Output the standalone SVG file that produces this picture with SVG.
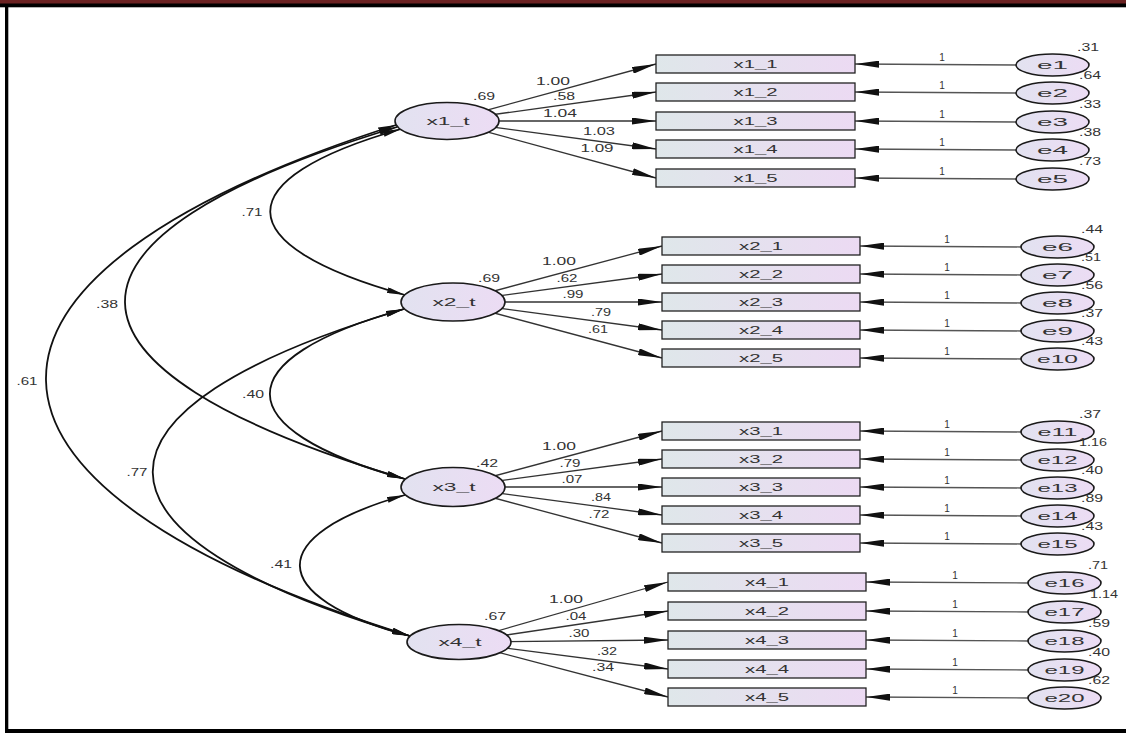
<svg xmlns="http://www.w3.org/2000/svg" width="1126" height="733" viewBox="0 0 1126 733">
<defs>
<linearGradient id="gR" x1="0" y1="0" x2="1" y2="0"><stop offset="0" stop-color="#dfe7ea"/><stop offset="1" stop-color="#ecdaf3"/></linearGradient>
<linearGradient id="gE" x1="0" y1="0" x2="1" y2="0"><stop offset="0" stop-color="#e2e2f0"/><stop offset="1" stop-color="#ecdcf4"/></linearGradient>
<marker id="ah" viewBox="0 0 24 7" refX="24" refY="3.5" markerWidth="24" markerHeight="7" markerUnits="userSpaceOnUse" orient="auto"><path d="M0,0 L24,3.5 L0,7 Z" fill="#111"/></marker>
<marker id="ac" viewBox="0 0 18 6" refX="18" refY="3" markerWidth="18" markerHeight="6" markerUnits="userSpaceOnUse" orient="auto-start-reverse"><path d="M0,0 L18,3 L0,6 Z" fill="#111"/></marker>
<style>
.lat, .err { fill: url(#gE); stroke: #1a1a1a; stroke-width: 1.6; }
.obs { fill: url(#gR); stroke: #222; stroke-width: 1.3; }
text { font-family: "Liberation Sans", Arial, sans-serif; fill: #333; text-anchor: middle; }
.lb { font-size: 11px; }
.nm { font-size: 10px; }
.en { font-size: 10px; text-anchor: start; }
.reg { stroke: #333; stroke-width: 1.3; marker-end: url(#ah); }
.el { stroke: #555; stroke-width: 1.3; marker-end: url(#ah); }
.cov { fill: none; stroke: #111; stroke-width: 1.8; marker-start: url(#ac); marker-end: url(#ac); }
</style>
</defs>
<rect x="0" y="0" width="1126" height="733" fill="#ffffff"/>
<g id="frame">
<rect x="0" y="0" width="1126" height="4" fill="#6b2222"/>
<rect x="0" y="3.5" width="1126" height="3.8" fill="#000"/>
<rect x="5" y="4" width="3.3" height="729" fill="#000"/>
<rect x="5" y="729" width="1121" height="4" fill="#000"/>
</g>
<g id="connectors">
<line class="reg" x1="447" y1="121" x2="656" y2="64"/>
<line class="reg" x1="447" y1="121" x2="656" y2="92"/>
<line class="reg" x1="447" y1="121" x2="656" y2="121"/>
<line class="reg" x1="447" y1="121" x2="656" y2="149"/>
<line class="reg" x1="447" y1="121" x2="656" y2="178"/>
<line class="reg" x1="453" y1="302" x2="662" y2="246"/>
<line class="reg" x1="453" y1="302" x2="662" y2="274"/>
<line class="reg" x1="453" y1="302" x2="662" y2="302"/>
<line class="reg" x1="453" y1="302" x2="662" y2="330"/>
<line class="reg" x1="453" y1="302" x2="662" y2="358"/>
<line class="reg" x1="453" y1="487" x2="662" y2="431"/>
<line class="reg" x1="453" y1="487" x2="662" y2="459"/>
<line class="reg" x1="453" y1="487" x2="662" y2="487"/>
<line class="reg" x1="453" y1="487" x2="662" y2="515"/>
<line class="reg" x1="453" y1="487" x2="662" y2="543"/>
<line class="reg" x1="459" y1="642" x2="668" y2="582"/>
<line class="reg" x1="459" y1="642" x2="668" y2="611"/>
<line class="reg" x1="459" y1="642" x2="668" y2="640"/>
<line class="reg" x1="459" y1="642" x2="668" y2="669"/>
<line class="reg" x1="459" y1="642" x2="668" y2="697"/>
<line class="el" x1="1016" y1="65" x2="855" y2="64"/>
<line class="el" x1="1016" y1="93" x2="855" y2="92"/>
<line class="el" x1="1016" y1="122" x2="855" y2="121"/>
<line class="el" x1="1016" y1="150" x2="855" y2="149"/>
<line class="el" x1="1016" y1="179" x2="855" y2="178"/>
<line class="el" x1="1021" y1="247" x2="860" y2="246"/>
<line class="el" x1="1021" y1="275" x2="860" y2="274"/>
<line class="el" x1="1021" y1="303" x2="860" y2="302"/>
<line class="el" x1="1021" y1="331" x2="860" y2="330"/>
<line class="el" x1="1021" y1="359" x2="860" y2="358"/>
<line class="el" x1="1021" y1="432" x2="860" y2="431"/>
<line class="el" x1="1021" y1="460" x2="860" y2="459"/>
<line class="el" x1="1021" y1="488" x2="860" y2="487"/>
<line class="el" x1="1021" y1="516" x2="860" y2="515"/>
<line class="el" x1="1021" y1="544" x2="860" y2="543"/>
<line class="el" x1="1028" y1="583" x2="866" y2="582"/>
<line class="el" x1="1028" y1="612" x2="866" y2="611"/>
<line class="el" x1="1028" y1="641" x2="866" y2="640"/>
<line class="el" x1="1028" y1="670" x2="866" y2="669"/>
<line class="el" x1="1028" y1="698" x2="866" y2="697"/>
<path class="cov" d="M401,129 C226,179 226,245 405,295"/>
<path class="cov" d="M404,309 C225,359 225,429 405,479"/>
<path class="cov" d="M405,495 C264,535 264,597 410,636"/>
<path class="cov" d="M397,127 C33,237 33,368 405,479"/>
<path class="cov" d="M396,125 C-73,275 -73,486 410,636"/>
<path class="cov" d="M404,309 C68,409 68,536 410,636"/>
<g id="connector-labels">
<text class="nm" x="553" y="85" textLength="34" lengthAdjust="spacingAndGlyphs">1.00</text>
<text class="nm" x="564" y="100" textLength="22" lengthAdjust="spacingAndGlyphs">.58</text>
<text class="nm" x="560" y="117" textLength="34" lengthAdjust="spacingAndGlyphs">1.04</text>
<text class="nm" x="599" y="135" textLength="32" lengthAdjust="spacingAndGlyphs">1.03</text>
<text class="nm" x="597" y="152" textLength="33" lengthAdjust="spacingAndGlyphs">1.09</text>
<text class="nm" x="559" y="265" textLength="34" lengthAdjust="spacingAndGlyphs">1.00</text>
<text class="nm" x="567" y="282" textLength="21" lengthAdjust="spacingAndGlyphs">.62</text>
<text class="nm" x="573" y="298" textLength="21" lengthAdjust="spacingAndGlyphs">.99</text>
<text class="nm" x="601" y="316" textLength="20" lengthAdjust="spacingAndGlyphs">.79</text>
<text class="nm" x="598" y="333" textLength="20" lengthAdjust="spacingAndGlyphs">.61</text>
<text class="nm" x="559" y="450" textLength="34" lengthAdjust="spacingAndGlyphs">1.00</text>
<text class="nm" x="570" y="467" textLength="21" lengthAdjust="spacingAndGlyphs">.79</text>
<text class="nm" x="572" y="483" textLength="21" lengthAdjust="spacingAndGlyphs">.07</text>
<text class="nm" x="601" y="501" textLength="20" lengthAdjust="spacingAndGlyphs">.84</text>
<text class="nm" x="599" y="518" textLength="21" lengthAdjust="spacingAndGlyphs">.72</text>
<text class="nm" x="566" y="603" textLength="34" lengthAdjust="spacingAndGlyphs">1.00</text>
<text class="nm" x="576" y="620" textLength="21" lengthAdjust="spacingAndGlyphs">.04</text>
<text class="nm" x="579" y="637" textLength="21" lengthAdjust="spacingAndGlyphs">.30</text>
<text class="nm" x="607" y="655" textLength="20" lengthAdjust="spacingAndGlyphs">.32</text>
<text class="nm" x="603" y="671" textLength="22" lengthAdjust="spacingAndGlyphs">.34</text>
<text class="nm" x="942" y="61">1</text>
<text class="nm" x="942" y="89">1</text>
<text class="nm" x="942" y="118">1</text>
<text class="nm" x="942" y="146">1</text>
<text class="nm" x="942" y="175">1</text>
<text class="nm" x="947" y="243">1</text>
<text class="nm" x="947" y="271">1</text>
<text class="nm" x="947" y="299">1</text>
<text class="nm" x="947" y="327">1</text>
<text class="nm" x="947" y="355">1</text>
<text class="nm" x="947" y="428">1</text>
<text class="nm" x="947" y="456">1</text>
<text class="nm" x="947" y="484">1</text>
<text class="nm" x="947" y="512">1</text>
<text class="nm" x="947" y="540">1</text>
<text class="nm" x="955" y="579">1</text>
<text class="nm" x="955" y="608">1</text>
<text class="nm" x="955" y="637">1</text>
<text class="nm" x="955" y="666">1</text>
<text class="nm" x="955" y="694">1</text>
<text class="nm" x="252" y="216" textLength="21" lengthAdjust="spacingAndGlyphs">.71</text>
<text class="nm" x="253" y="398" textLength="22" lengthAdjust="spacingAndGlyphs">.40</text>
<text class="nm" x="281" y="568" textLength="22" lengthAdjust="spacingAndGlyphs">.41</text>
<text class="nm" x="107" y="308" textLength="22" lengthAdjust="spacingAndGlyphs">.38</text>
<text class="nm" x="27" y="385" textLength="21" lengthAdjust="spacingAndGlyphs">.61</text>
<text class="nm" x="137" y="476" textLength="21" lengthAdjust="spacingAndGlyphs">.77</text>
</g>
</g>
<g id="x1_t"><ellipse class="lat" cx="447" cy="121" rx="52" ry="18.5"/><text class="lb" x="448" y="125" textLength="43" lengthAdjust="spacingAndGlyphs">x1_t</text><text class="nm" x="484" y="100" textLength="22" lengthAdjust="spacingAndGlyphs">.69</text></g>
<g id="x2_t"><ellipse class="lat" cx="453" cy="302" rx="52" ry="19"/><text class="lb" x="454" y="306" textLength="43" lengthAdjust="spacingAndGlyphs">x2_t</text><text class="nm" x="489" y="282" textLength="22" lengthAdjust="spacingAndGlyphs">.69</text></g>
<g id="x3_t"><ellipse class="lat" cx="453" cy="487" rx="52" ry="19.5"/><text class="lb" x="454" y="491" textLength="43" lengthAdjust="spacingAndGlyphs">x3_t</text><text class="nm" x="487" y="467" textLength="22" lengthAdjust="spacingAndGlyphs">.42</text></g>
<g id="x4_t"><ellipse class="lat" cx="459" cy="642" rx="52" ry="17.5"/><text class="lb" x="460" y="646" textLength="43" lengthAdjust="spacingAndGlyphs">x4_t</text><text class="nm" x="495" y="620" textLength="22" lengthAdjust="spacingAndGlyphs">.67</text></g>
<g id="x1_1"><rect class="obs" x="656" y="55" width="199" height="18"/><text class="lb" x="755.5" y="68" textLength="44" lengthAdjust="spacingAndGlyphs">x1_1</text></g>
<g id="x1_2"><rect class="obs" x="656" y="83" width="199" height="18"/><text class="lb" x="755.5" y="96" textLength="44" lengthAdjust="spacingAndGlyphs">x1_2</text></g>
<g id="x1_3"><rect class="obs" x="656" y="112" width="199" height="18"/><text class="lb" x="755.5" y="125" textLength="44" lengthAdjust="spacingAndGlyphs">x1_3</text></g>
<g id="x1_4"><rect class="obs" x="656" y="140" width="199" height="18"/><text class="lb" x="755.5" y="153" textLength="44" lengthAdjust="spacingAndGlyphs">x1_4</text></g>
<g id="x1_5"><rect class="obs" x="656" y="169" width="199" height="18"/><text class="lb" x="755.5" y="182" textLength="44" lengthAdjust="spacingAndGlyphs">x1_5</text></g>
<g id="x2_1"><rect class="obs" x="662" y="237" width="198" height="18"/><text class="lb" x="761" y="250" textLength="44" lengthAdjust="spacingAndGlyphs">x2_1</text></g>
<g id="x2_2"><rect class="obs" x="662" y="265" width="198" height="18"/><text class="lb" x="761" y="278" textLength="44" lengthAdjust="spacingAndGlyphs">x2_2</text></g>
<g id="x2_3"><rect class="obs" x="662" y="293" width="198" height="18"/><text class="lb" x="761" y="306" textLength="44" lengthAdjust="spacingAndGlyphs">x2_3</text></g>
<g id="x2_4"><rect class="obs" x="662" y="321" width="198" height="18"/><text class="lb" x="761" y="334" textLength="44" lengthAdjust="spacingAndGlyphs">x2_4</text></g>
<g id="x2_5"><rect class="obs" x="662" y="349" width="198" height="18"/><text class="lb" x="761" y="362" textLength="44" lengthAdjust="spacingAndGlyphs">x2_5</text></g>
<g id="x3_1"><rect class="obs" x="662" y="422" width="198" height="18"/><text class="lb" x="761" y="435" textLength="44" lengthAdjust="spacingAndGlyphs">x3_1</text></g>
<g id="x3_2"><rect class="obs" x="662" y="450" width="198" height="18"/><text class="lb" x="761" y="463" textLength="44" lengthAdjust="spacingAndGlyphs">x3_2</text></g>
<g id="x3_3"><rect class="obs" x="662" y="478" width="198" height="18"/><text class="lb" x="761" y="491" textLength="44" lengthAdjust="spacingAndGlyphs">x3_3</text></g>
<g id="x3_4"><rect class="obs" x="662" y="506" width="198" height="18"/><text class="lb" x="761" y="519" textLength="44" lengthAdjust="spacingAndGlyphs">x3_4</text></g>
<g id="x3_5"><rect class="obs" x="662" y="534" width="198" height="18"/><text class="lb" x="761" y="547" textLength="44" lengthAdjust="spacingAndGlyphs">x3_5</text></g>
<g id="x4_1"><rect class="obs" x="668" y="573" width="198" height="18"/><text class="lb" x="767" y="586" textLength="44" lengthAdjust="spacingAndGlyphs">x4_1</text></g>
<g id="x4_2"><rect class="obs" x="668" y="602" width="198" height="18"/><text class="lb" x="767" y="615" textLength="44" lengthAdjust="spacingAndGlyphs">x4_2</text></g>
<g id="x4_3"><rect class="obs" x="668" y="631" width="198" height="18"/><text class="lb" x="767" y="644" textLength="44" lengthAdjust="spacingAndGlyphs">x4_3</text></g>
<g id="x4_4"><rect class="obs" x="668" y="660" width="198" height="18"/><text class="lb" x="767" y="673" textLength="44" lengthAdjust="spacingAndGlyphs">x4_4</text></g>
<g id="x4_5"><rect class="obs" x="668" y="688" width="198" height="18"/><text class="lb" x="767" y="701" textLength="44" lengthAdjust="spacingAndGlyphs">x4_5</text></g>
<g id="e1"><ellipse class="err" cx="1052.5" cy="65" rx="36.5" ry="11"/><text class="lb" x="1052.5" y="69" textLength="31" lengthAdjust="spacingAndGlyphs">e1</text><text class="en" x="1077" y="51" textLength="22" lengthAdjust="spacingAndGlyphs">.31</text></g>
<g id="e2"><ellipse class="err" cx="1052.5" cy="93" rx="36.5" ry="11"/><text class="lb" x="1052.5" y="97" textLength="31" lengthAdjust="spacingAndGlyphs">e2</text><text class="en" x="1079" y="79" textLength="22" lengthAdjust="spacingAndGlyphs">.64</text></g>
<g id="e3"><ellipse class="err" cx="1052.5" cy="122" rx="36.5" ry="11"/><text class="lb" x="1052.5" y="126" textLength="31" lengthAdjust="spacingAndGlyphs">e3</text><text class="en" x="1079" y="108" textLength="22" lengthAdjust="spacingAndGlyphs">.33</text></g>
<g id="e4"><ellipse class="err" cx="1052.5" cy="150" rx="36.5" ry="11"/><text class="lb" x="1052.5" y="154" textLength="31" lengthAdjust="spacingAndGlyphs">e4</text><text class="en" x="1079" y="136" textLength="22" lengthAdjust="spacingAndGlyphs">.38</text></g>
<g id="e5"><ellipse class="err" cx="1052.5" cy="179" rx="36.5" ry="11"/><text class="lb" x="1052.5" y="183" textLength="31" lengthAdjust="spacingAndGlyphs">e5</text><text class="en" x="1079" y="165" textLength="22" lengthAdjust="spacingAndGlyphs">.73</text></g>
<g id="e6"><ellipse class="err" cx="1057.5" cy="247" rx="36.5" ry="11"/><text class="lb" x="1057.5" y="251" textLength="31" lengthAdjust="spacingAndGlyphs">e6</text><text class="en" x="1081" y="233" textLength="22" lengthAdjust="spacingAndGlyphs">.44</text></g>
<g id="e7"><ellipse class="err" cx="1057.5" cy="275" rx="36.5" ry="11"/><text class="lb" x="1057.5" y="279" textLength="31" lengthAdjust="spacingAndGlyphs">e7</text><text class="en" x="1081" y="261" textLength="20" lengthAdjust="spacingAndGlyphs">.51</text></g>
<g id="e8"><ellipse class="err" cx="1057.5" cy="303" rx="36.5" ry="11"/><text class="lb" x="1057.5" y="307" textLength="31" lengthAdjust="spacingAndGlyphs">e8</text><text class="en" x="1081" y="289" textLength="22" lengthAdjust="spacingAndGlyphs">.56</text></g>
<g id="e9"><ellipse class="err" cx="1057.5" cy="331" rx="36.5" ry="11"/><text class="lb" x="1057.5" y="335" textLength="31" lengthAdjust="spacingAndGlyphs">e9</text><text class="en" x="1081" y="317" textLength="22" lengthAdjust="spacingAndGlyphs">.37</text></g>
<g id="e10"><ellipse class="err" cx="1057.5" cy="359" rx="36.5" ry="11"/><text class="lb" x="1057.5" y="363" textLength="41" lengthAdjust="spacingAndGlyphs">e10</text><text class="en" x="1081" y="345" textLength="22" lengthAdjust="spacingAndGlyphs">.43</text></g>
<g id="e11"><ellipse class="err" cx="1057.5" cy="432" rx="36.5" ry="11"/><text class="lb" x="1057.5" y="436" textLength="40" lengthAdjust="spacingAndGlyphs">e11</text><text class="en" x="1079" y="418" textLength="22" lengthAdjust="spacingAndGlyphs">.37</text></g>
<g id="e12"><ellipse class="err" cx="1057.5" cy="460" rx="36.5" ry="11"/><text class="lb" x="1057.5" y="464" textLength="40" lengthAdjust="spacingAndGlyphs">e12</text><text class="en" x="1079" y="446" textLength="28" lengthAdjust="spacingAndGlyphs">1.16</text></g>
<g id="e13"><ellipse class="err" cx="1057.5" cy="488" rx="36.5" ry="11"/><text class="lb" x="1057.5" y="492" textLength="40" lengthAdjust="spacingAndGlyphs">e13</text><text class="en" x="1081" y="474" textLength="22" lengthAdjust="spacingAndGlyphs">.40</text></g>
<g id="e14"><ellipse class="err" cx="1057.5" cy="516" rx="36.5" ry="11"/><text class="lb" x="1057.5" y="520" textLength="40" lengthAdjust="spacingAndGlyphs">e14</text><text class="en" x="1081" y="502" textLength="22" lengthAdjust="spacingAndGlyphs">.89</text></g>
<g id="e15"><ellipse class="err" cx="1057.5" cy="544" rx="36.5" ry="11"/><text class="lb" x="1057.5" y="548" textLength="40" lengthAdjust="spacingAndGlyphs">e15</text><text class="en" x="1081" y="530" textLength="22" lengthAdjust="spacingAndGlyphs">.43</text></g>
<g id="e16"><ellipse class="err" cx="1064.5" cy="583" rx="36.5" ry="11"/><text class="lb" x="1064.5" y="587" textLength="40" lengthAdjust="spacingAndGlyphs">e16</text><text class="en" x="1088" y="569" textLength="20" lengthAdjust="spacingAndGlyphs">.71</text></g>
<g id="e17"><ellipse class="err" cx="1064.5" cy="612" rx="36.5" ry="11"/><text class="lb" x="1064.5" y="616" textLength="40" lengthAdjust="spacingAndGlyphs">e17</text><text class="en" x="1090" y="598" textLength="28" lengthAdjust="spacingAndGlyphs">1.14</text></g>
<g id="e18"><ellipse class="err" cx="1064.5" cy="641" rx="36.5" ry="11"/><text class="lb" x="1064.5" y="645" textLength="40" lengthAdjust="spacingAndGlyphs">e18</text><text class="en" x="1088" y="627" textLength="22" lengthAdjust="spacingAndGlyphs">.59</text></g>
<g id="e19"><ellipse class="err" cx="1064.5" cy="670" rx="36.5" ry="11"/><text class="lb" x="1064.5" y="674" textLength="40" lengthAdjust="spacingAndGlyphs">e19</text><text class="en" x="1088" y="656" textLength="22" lengthAdjust="spacingAndGlyphs">.40</text></g>
<g id="e20"><ellipse class="err" cx="1064.5" cy="698" rx="36.5" ry="11"/><text class="lb" x="1064.5" y="702" textLength="40" lengthAdjust="spacingAndGlyphs">e20</text><text class="en" x="1088" y="684" textLength="22" lengthAdjust="spacingAndGlyphs">.62</text></g>
</svg>
